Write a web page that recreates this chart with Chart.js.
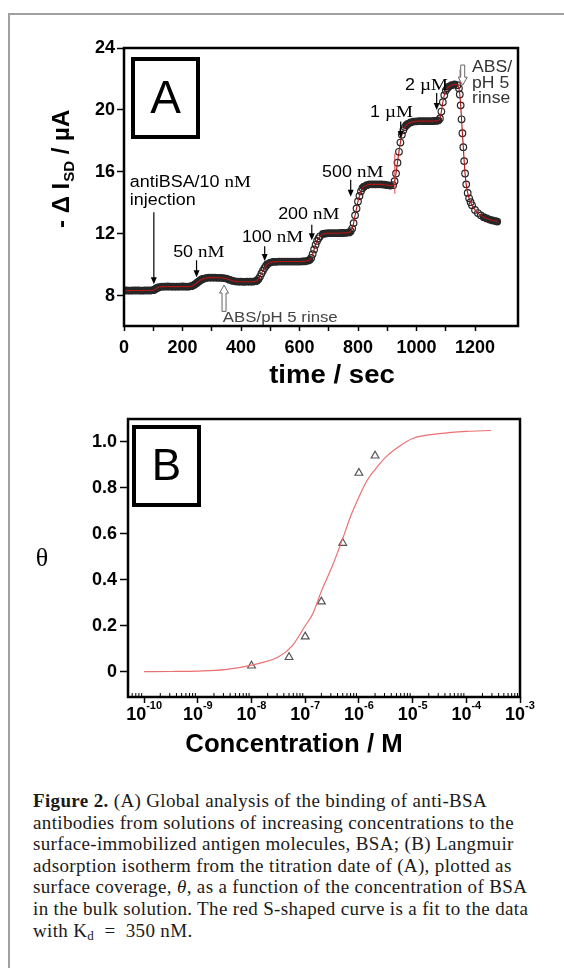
<!DOCTYPE html>
<html>
<head>
<meta charset="utf-8">
<script src="https://cdn.jsdelivr.net/npm/chart.js@4.4.0/dist/chart.umd.min.js"></script>
<style>
  html, body { margin: 0; padding: 0; background: #fff; }
  body { width: 564px; height: 968px; position: relative; overflow: hidden; }
  #frame { position: absolute; left: 8px; top: 13px; width: 620px; height: 1000px;
           border-left: 2px solid #a0a0a0; border-top: 2px solid #a0a0a0; }
  #chartA { position: absolute; left: 0; top: 0; }
  #chartB { position: absolute; left: 0; top: 400px; }
  #caption { position: absolute; left: 33px; top: 790px; font-family: "Liberation Serif", "Times New Roman", serif;
             font-size: 19px; letter-spacing: 0.35px; line-height: 21.6px; color: #1a1a1a; white-space: nowrap; }
  #caption i { font-style: italic; }
  #caption sub { font-size: 13px; vertical-align: -3px; line-height: 0; }
</style>
</head>
<body>
<div id="frame"></div>
<canvas id="chartA" width="564" height="400"></canvas>
<canvas id="chartB" width="564" height="380"></canvas>
<div id="caption">
<b>Figure 2.</b> (A) Global analysis of the binding of anti-BSA<br>
antibodies from solutions of increasing concentrations to the<br>
surface-immobilized antigen molecules, BSA; (B) Langmuir<br>
adsorption isotherm from the titration date of (A), plotted as<br>
surface coverage, <i>θ</i>, as a function of the concentration of BSA<br>
in the bulk solution. The red S-shaped curve is a fit to the data<br>
with K<sub>d</sub> &nbsp;=&nbsp; 350 nM.
</div>
<script>
// ---- Panel A: titration trace, -ΔI_SD (µA) against time (s)
const timeSec = [0, 10, 20, 30, 40, 50, 60, 70, 80, 90, 100,
  105, 110, 115, 120, 130, 140, 150, 160, 170, 180, 190, 200, 210, 220, 230,
  235, 240, 245, 250, 255, 260, 265, 270, 280, 290, 300, 310, 320, 330, 340, 350,
  360, 370, 380, 390, 400, 410, 420, 430, 440, 450,
  455, 460, 465, 470, 475, 480, 485, 490, 500, 510, 520, 530, 540, 550, 560, 570, 580, 590, 600, 610, 620, 630,
  635, 640, 645, 650, 655, 660, 665, 670, 680, 690, 700, 710, 720, 730, 740, 750, 760, 770,
  775, 780, 785, 790, 795, 800, 805, 810, 815, 820, 830, 840, 850, 860, 870, 880, 890, 900, 910, 920,
  925, 930, 935, 940, 945, 950, 955, 960, 965, 970, 980, 990, 1000, 1010, 1020, 1030, 1040, 1050, 1060, 1070,
  1075, 1080, 1085, 1090, 1095, 1100, 1105, 1110, 1120, 1130, 1140, 1145,
  1148, 1151, 1154, 1157, 1160, 1163, 1166, 1170, 1175, 1180, 1185, 1190, 1200, 1210, 1220, 1230, 1240, 1250, 1260, 1270, 1276];
const currentUA = [8.35, 8.35, 8.34, 8.35, 8.35, 8.35, 8.34, 8.35, 8.35, 8.35, 8.37,
  8.42, 8.48, 8.53, 8.56, 8.6, 8.6, 8.61, 8.6, 8.6, 8.6, 8.6, 8.61, 8.6, 8.6, 8.63,
  8.67, 8.72, 8.78, 8.85, 8.93, 9.0, 9.06, 9.1, 9.15, 9.18, 9.18, 9.18, 9.17, 9.17, 9.15, 9.12,
  9.05, 8.98, 8.94, 8.92, 8.92, 8.91, 8.92, 8.92, 8.92, 8.95,
  9.0, 9.1, 9.25, 9.45, 9.63, 9.8, 9.94, 10.05, 10.15, 10.2, 10.2, 10.22, 10.22, 10.22, 10.22, 10.22, 10.22, 10.22, 10.22, 10.23, 10.24, 10.28,
  10.33, 10.45, 10.7, 11.0, 11.3, 11.55, 11.72, 11.85, 12.0, 12.03, 12.05, 12.05, 12.05, 12.05, 12.06, 12.06, 12.07, 12.1,
  12.18, 12.35, 12.7, 13.2, 13.65, 14.1, 14.45, 14.75, 14.95, 15.05, 15.15, 15.2, 15.2, 15.2, 15.2, 15.2, 15.18, 15.15, 15.12, 15.15,
  15.4, 15.9, 16.6, 17.3, 17.9, 18.4, 18.7, 18.9, 19.02, 19.1, 19.2, 19.25, 19.27, 19.28, 19.28, 19.28, 19.28, 19.28, 19.29, 19.3,
  19.33, 19.45, 19.9, 20.5, 20.95, 21.25, 21.4, 21.5, 21.6, 21.65, 21.6, 21.4,
  21.0, 20.3, 19.4, 18.5, 17.6, 16.7, 15.9, 15.2, 14.65, 14.3, 14.05, 13.85, 13.55, 13.35, 13.2, 13.08, 13.0, 12.93, 12.87, 12.83, 12.8];
// short red marks left by the fit (time, low, high)
const fitMarkTime = [926, 1149];
const fitMarkLow = [14.6, 21.6];
const fitMarkHigh = [17.2, 22.6];
const xTicksA = [0, 100, 200, 300, 400, 500, 600, 700, 800, 900, 1000, 1100, 1200];
const xLabelsA = [0, 200, 400, 600, 800, 1000, 1200];
const yTicksA = [8, 12, 16, 20, 24];

// ---- Panel B: Langmuir isotherm
const concM = [1e-8, 5e-8, 1e-7, 2e-7, 5e-7, 1e-6, 2e-6];
const coverage = [0.026, 0.063, 0.153, 0.305, 0.56, 0.865, 0.94];
const fitConcM = [1e-10, 3.2e-10, 1e-9, 3.2e-9, 1e-8, 3.2e-8, 5.6e-8, 1e-7, 1.4e-7, 2e-7, 3.2e-7, 5e-7,
  7.1e-7, 1e-6, 1.4e-6, 2e-6, 3.2e-6, 5.6e-6, 1e-5, 3.2e-5, 1e-4, 2.9e-4];
const fitCoverage = [0.0003, 0.001, 0.003, 0.009, 0.029, 0.065, 0.11, 0.2, 0.255, 0.35, 0.46, 0.58,
  0.68, 0.76, 0.83, 0.88, 0.935, 0.98, 1.015, 1.036, 1.046, 1.05];
const decadeExp = [-10, -9, -8, -7, -6, -5, -4, -3];
const yTicksB = [0, 0.2, 0.4, 0.6, 0.8, 1.0];

const SANS = '"Liberation Sans", Arial, sans-serif';
const SERIF = '"Liberation Serif", "Times New Roman", serif';
const tickFont = { family: SANS, size: 18, weight: 'bold' };

// text drawn a little wider, like the stretched original
function wideText(ctx, str, x, y, sx, align) {
    ctx.save();
    ctx.translate(x, y);
    ctx.scale(sx, 1);
    ctx.textAlign = align || 'left';
    ctx.fillText(str, 0, 0);
    ctx.restore();
}

// number in sans, unit in serif ("50 nM")
function concLabel(ctx, num, unit, x, y) {
    const sx = 1.12;
    ctx.font = '16px ' + SANS;
    const w = ctx.measureText(num).width * sx;
    wideText(ctx, num, x, y, sx);
    ctx.font = '17px ' + SERIF;
    wideText(ctx, unit, x + w, y, sx);
}

function downArrow(ctx, x, y0, y1) {
    ctx.save();
    ctx.strokeStyle = '#000';
    ctx.fillStyle = '#000';
    ctx.lineWidth = 1.2;
    ctx.beginPath();
    ctx.moveTo(x, y0);
    ctx.lineTo(x, y1 - 6);
    ctx.stroke();
    ctx.beginPath();
    ctx.moveTo(x - 3, y1 - 7);
    ctx.lineTo(x + 3, y1 - 7);
    ctx.lineTo(x, y1);
    ctx.closePath();
    ctx.fill();
    ctx.restore();
}

// open (outlined) arrow, dir = 1 points down, -1 points up
function hollowArrow(ctx, x, yTail, yTip, dir) {
    const head = 8 * dir;
    ctx.save();
    ctx.strokeStyle = '#666';
    ctx.fillStyle = '#fff';
    ctx.lineWidth = 1;
    ctx.beginPath();
    ctx.moveTo(x - 2, yTail);
    ctx.lineTo(x - 2, yTip - head);
    ctx.lineTo(x - 4.5, yTip - head);
    ctx.lineTo(x, yTip);
    ctx.lineTo(x + 4.5, yTip - head);
    ctx.lineTo(x + 2, yTip - head);
    ctx.lineTo(x + 2, yTail);
    ctx.closePath();
    ctx.fill();
    ctx.stroke();
    ctx.restore();
}

function letterBox(ctx, letter, x, y, w, h, size) {
    ctx.save();
    ctx.strokeStyle = '#000';
    ctx.lineWidth = 4;
    ctx.strokeRect(x, y, w, h);
    ctx.fillStyle = '#000';
    ctx.font = size + 'px ' + SANS;
    ctx.textAlign = 'center';
    ctx.textBaseline = 'middle';
    ctx.fillText(letter, x + w / 2, y + h / 2 + 2);
    ctx.restore();
}

function plotFrame(chart) {
    const a = chart.chartArea;
    const ctx = chart.ctx;
    ctx.save();
    ctx.strokeStyle = '#000';
    ctx.lineWidth = 2.5;
    ctx.strokeRect(a.left, a.top, a.right - a.left, a.bottom - a.top);
    ctx.restore();
}

const panelADecor = {
    id: 'panelADecor',
    afterDraw(chart) {
        const ctx = chart.ctx;
        const xs = chart.scales.x, ys = chart.scales.y;
        const X = t => xs.getPixelForValue(t);
        const Y = v => ys.getPixelForValue(v);
        plotFrame(chart);
        letterBox(ctx, 'A', 133, 59, 65, 78, 46);

        ctx.save();
        ctx.fillStyle = '#000';
        ctx.textBaseline = 'alphabetic';
        // injection label and arrow
        concLabel(ctx, 'antiBSA/10 ', 'nM', X(20), Y(15.03));
        ctx.font = '16px ' + SANS;
        wideText(ctx, 'injection', X(20), Y(13.87), 1.12);
        downArrow(ctx, X(102), Y(13.4), Y(8.75));
        concLabel(ctx, '50 ', 'nM', X(168), Y(10.52));
        downArrow(ctx, X(248), Y(10.3), Y(9.2));
        concLabel(ctx, '100 ', 'nM', X(403), Y(11.48));
        downArrow(ctx, X(481), Y(11.2), Y(10.25));
        concLabel(ctx, '200 ', 'nM', X(527), Y(12.97));
        downArrow(ctx, X(642), Y(12.6), Y(11.6));
        concLabel(ctx, '500 ', 'nM', X(677), Y(15.68));
        downArrow(ctx, X(775), Y(15.5), Y(14.4));
        concLabel(ctx, '1 ', 'µM', X(841), Y(19.55));
        downArrow(ctx, X(946), Y(19.25), Y(18.2));
        concLabel(ctx, '2 ', 'µM', X(961), Y(21.3));
        downArrow(ctx, X(1069), Y(21.1), Y(20.0));
        // rinse marks
        hollowArrow(ctx, X(1158), Y(22.9), Y(21.6), 1);
        hollowArrow(ctx, X(342), Y(7.0), Y(8.7), -1);
        ctx.fillStyle = '#333';
        ctx.font = '16px ' + SANS;
        wideText(ctx, 'ABS/', X(1190), Y(22.45), 1.1);
        wideText(ctx, 'pH 5', X(1190), Y(21.42), 1.1);
        wideText(ctx, 'rinse', X(1190), Y(20.45), 1.1);
        ctx.fillStyle = '#444';
        ctx.font = '15px ' + SANS;
        wideText(ctx, 'ABS/pH 5 rinse', X(338), Y(6.3), 1.12);

        // axis titles
        ctx.fillStyle = '#000';
        ctx.font = 'bold 26px ' + SANS;
        wideText(ctx, 'time / sec', 332, 383, 1.06, 'center');

        ctx.translate(69, 228);
        ctx.rotate(-Math.PI / 2);
        ctx.font = 'bold 24px ' + SANS;
        let cx = 0;
        const p1 = '- Δ I';
        ctx.fillText(p1, cx, 0);
        cx += ctx.measureText(p1).width + 1;
        ctx.font = 'bold 15px ' + SANS;
        ctx.fillText('SD', cx, 5);
        cx += ctx.measureText('SD').width;
        ctx.font = 'bold 24px ' + SANS;
        ctx.fillText(' / µA', cx, 0);
        ctx.restore();
    }
};

const panelBDecor = {
    id: 'panelBDecor',
    afterDraw(chart) {
        const ctx = chart.ctx;
        const xs = chart.scales.x;
        const a = chart.chartArea;
        plotFrame(chart);
        letterBox(ctx, 'B', 134, 27, 65, 78, 44);

        ctx.save();
        // inward minor ticks on the log axis
        ctx.strokeStyle = '#000';
        ctx.lineWidth = 1;
        for (let e = -11; e < -3; e++) {
            for (let m = 2; m < 10; m++) {
                const px = xs.getPixelForValue(m * Math.pow(10, e));
                if (px < a.left || px > a.right) continue;
                ctx.beginPath();
                ctx.moveTo(px, a.bottom);
                ctx.lineTo(px, a.bottom - 4);
                ctx.stroke();
            }
        }
        // decade labels with superscript exponents
        ctx.fillStyle = '#000';
        decadeExp.forEach(e => {
            const px = xs.getPixelForValue(Math.pow(10, e));
            ctx.font = 'bold 18px ' + SANS;
            const wBase = ctx.measureText('10').width;
            ctx.font = 'bold 11px ' + SANS;
            const expStr = String(e);
            const wExp = ctx.measureText(expStr).width;
            const left = px - (wBase + wExp) / 2;
            ctx.font = 'bold 18px ' + SANS;
            ctx.textAlign = 'left';
            ctx.fillText('10', left, 320);
            ctx.font = 'bold 11px ' + SANS;
            ctx.fillText(expStr, left + wBase, 309);
        });
        // axis titles
        ctx.font = 'bold 25px ' + SANS;
        wideText(ctx, 'Concentration / M', (a.left + a.right) / 2 - 30, 352, 1.03, 'center');
        ctx.font = '26px ' + SERIF;
        ctx.textAlign = 'center';
        ctx.fillText('θ', 42, 166);
        ctx.restore();
    }
};

const tracePoints = timeSec.map((t, i) => ({ x: t, y: currentUA[i] }));
const markSets = fitMarkTime.map((t, i) => ({
    data: [{ x: t, y: fitMarkLow[i] }, { x: t, y: fitMarkHigh[i] }],
    showLine: true, borderColor: '#e03a3a', borderWidth: 1, pointRadius: 0
}));

// densely sampled flat stretches print as a solid dark band, steep ones as open rings
function markerFill(c) {
    const i = c.dataIndex;
    const prev = currentUA[Math.max(0, i - 1)];
    const next = currentUA[Math.min(currentUA.length - 1, i + 1)];
    return Math.abs(next - prev) < 0.25 ? '#2a2a2a' : 'rgba(255,255,255,0)';
}

new Chart(document.getElementById('chartA'), {
    type: 'scatter',
    data: {
        datasets: [
            ...markSets,
            { label: 'fit', data: tracePoints, showLine: true, borderColor: '#b01515', borderWidth: 1.1,
              pointRadius: 0, cubicInterpolationMode: 'monotone' },
            { label: 'data', data: tracePoints, pointStyle: 'circle', pointRadius: 3.3,
              pointBorderColor: '#262626', pointBackgroundColor: markerFill, pointBorderWidth: 1.2 }
        ]
    },
    options: {
        responsive: false,
        animation: false,
        events: [],
        layout: { padding: { left: 0, top: 48, right: 46, bottom: 0 } },
        plugins: { legend: { display: false }, tooltip: { enabled: false } },
        scales: {
            x: {
                type: 'linear', min: 0, max: 1347,
                afterBuildTicks: s => { s.ticks = xTicksA.map(v => ({ value: v })); },
                afterFit: s => { s.height = 74; },
                ticks: { autoSkip: false, maxRotation: 0, padding: 6, color: '#000', font: tickFont,
                         callback: v => xLabelsA.includes(v) ? String(v) : '' },
                grid: { drawOnChartArea: false, tickLength: 5, tickColor: '#000', tickWidth: 1.5 },
                border: { display: false }
            },
            y: {
                type: 'linear', min: 6.06, max: 24,
                afterBuildTicks: s => { s.ticks = yTicksA.map(v => ({ value: v })); },
                afterFit: s => { s.width = 124; },
                ticks: { padding: 2, color: '#000', font: tickFont },
                grid: { drawOnChartArea: false, tickLength: 7, tickColor: '#000', tickWidth: 1.5 },
                border: { display: false }
            }
        }
    },
    plugins: [panelADecor]
});

new Chart(document.getElementById('chartB'), {
    type: 'scatter',
    data: {
        datasets: [
            { label: 'Langmuir fit', data: fitConcM.map((c, i) => ({ x: c, y: fitCoverage[i] })),
              showLine: true, borderColor: '#ec6f72', borderWidth: 1.2, pointRadius: 0,
              cubicInterpolationMode: 'monotone' },
            { label: 'coverage', data: concM.map((c, i) => ({ x: c, y: coverage[i] })),
              pointStyle: 'triangle', pointRadius: 4.5, pointBorderColor: '#555',
              pointBackgroundColor: 'rgba(255,255,255,0)', pointBorderWidth: 1.2 }
        ]
    },
    options: {
        responsive: false,
        animation: false,
        events: [],
        layout: { padding: { left: 0, top: 19, right: 44, bottom: 0 } },
        plugins: { legend: { display: false }, tooltip: { enabled: false } },
        scales: {
            x: {
                type: 'logarithmic', min: 5.01e-11, max: 1e-3,
                afterBuildTicks: s => { s.ticks = decadeExp.map(e => ({ value: Math.pow(10, e) })); },
                afterFit: s => { s.height = 83; },
                ticks: { autoSkip: false, maxRotation: 0, callback: () => '' },
                grid: { drawOnChartArea: false, tickLength: 6, tickColor: '#000', tickWidth: 1.5 },
                border: { display: false }
            },
            y: {
                type: 'linear', min: -0.11, max: 1.1,
                afterBuildTicks: s => { s.ticks = yTicksB.map(v => ({ value: v })); },
                afterFit: s => { s.width = 128; },
                ticks: { padding: 3, color: '#000', font: tickFont,
                         callback: v => v === 0 ? '0' : v.toFixed(1) },
                grid: { drawOnChartArea: false, tickLength: 8, tickColor: '#000', tickWidth: 1.5 },
                border: { display: false }
            }
        }
    },
    plugins: [panelBDecor]
});
</script>
</body>
</html>
